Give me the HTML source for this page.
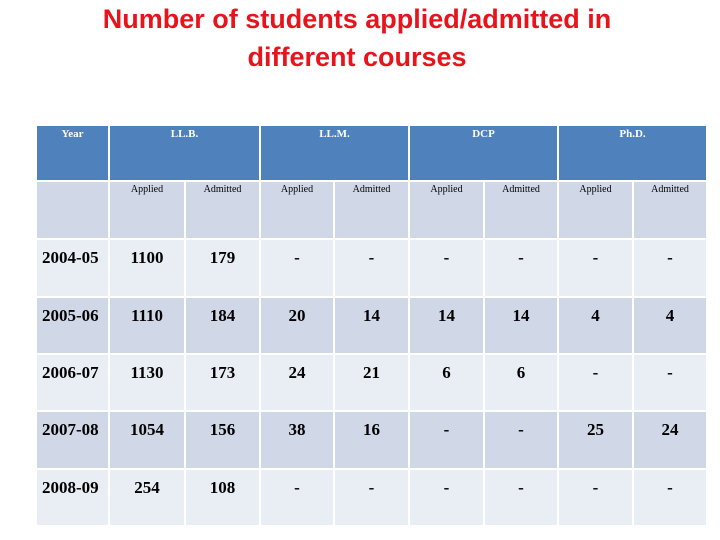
<!DOCTYPE html>
<html><head><meta charset="utf-8"><style>
body{margin:0;width:720px;height:540px;background:#fff;position:relative;overflow:hidden;font-family:"Liberation Serif",serif}
#title{position:absolute;left:0;top:0px;width:714px;text-align:center;color:#e8141c;font-family:"Liberation Sans",sans-serif;font-size:27px;font-weight:bold;line-height:38px}
.c{position:absolute;box-sizing:border-box;border-right:2px solid #fff;border-bottom:2px solid #fff;text-align:center}
.h{background:#4f81bd;color:#fff;font-weight:bold;font-size:11px;padding-top:2px}
.s{background:#d0d8e8;font-size:10px;padding-top:2px}
.d{font-size:17px;font-weight:bold;padding-top:8px}
.L{background:#e9edf4}.D{background:#d0d8e8}
</style></head><body>
<div id="title">Number of students applied/admitted in<br>different courses</div>
<div id="tbl"></div>
<script>
const years=['2004-05','2005-06','2006-07','2007-08','2008-09'];
const llbApplied=['1100','1110','1130','1054','254'];
const llbAdmitted=['179','184','173','156','108'];
const llmApplied=['-','20','24','38','-'];
const llmAdmitted=['-','14','21','16','-'];
const dcpApplied=['-','14','6','-','-'];
const dcpAdmitted=['-','14','6','-','-'];
const phdApplied=['-','4','-','25','-'];
const phdAdmitted=['-','4','-','24','-'];
const courses=['LL.B.','LL.M.','DCP','Ph.D.'];
const cols=[37,110,186,261,335,410,485,559,634,708];
const rows=[126,182,240,298,355,412,470,527];
const t=document.getElementById('tbl');
function cell(cls,x0,x1,y0,y1,txt,align){
  const d=document.createElement('div');
  d.className='c '+cls;
  d.style.left=x0+'px';d.style.top=y0+'px';d.style.width=(x1-x0)+'px';d.style.height=(y1-y0)+'px';
  if(align)d.style.textAlign=align,d.style.paddingLeft='5px';
  d.textContent=txt;t.appendChild(d);return d;
}
let e=cell('h',cols[0],cols[1],rows[0],rows[1],'Year');


courses.forEach((c,i)=>{
  const h=cell('h',cols[1+2*i],cols[3+2*i],rows[0],rows[1],c);
  
  
  const a=cell('s',cols[1+2*i],cols[2+2*i],rows[1],rows[2],'Applied');
  
  
  const b=cell('s',cols[2+2*i],cols[3+2*i],rows[1],rows[2],'Admitted');
  
  
});
e=cell('s',cols[0],cols[1],rows[1],rows[2],'');


const series=[llbApplied,llbAdmitted,llmApplied,llmAdmitted,dcpApplied,dcpAdmitted,phdApplied,phdAdmitted];
years.forEach((y,r)=>{
  const bg=r%2===0?'L':'D';
  const yc=cell('d '+bg,cols[0],cols[1],rows[r+2],rows[r+3],y,'left');
  
  
  series.forEach((s,k)=>{
    const v=cell('d '+bg,cols[k+1],cols[k+2],rows[r+2],rows[r+3],s[r]);
    
    
  });
});
</script>
</body></html>
